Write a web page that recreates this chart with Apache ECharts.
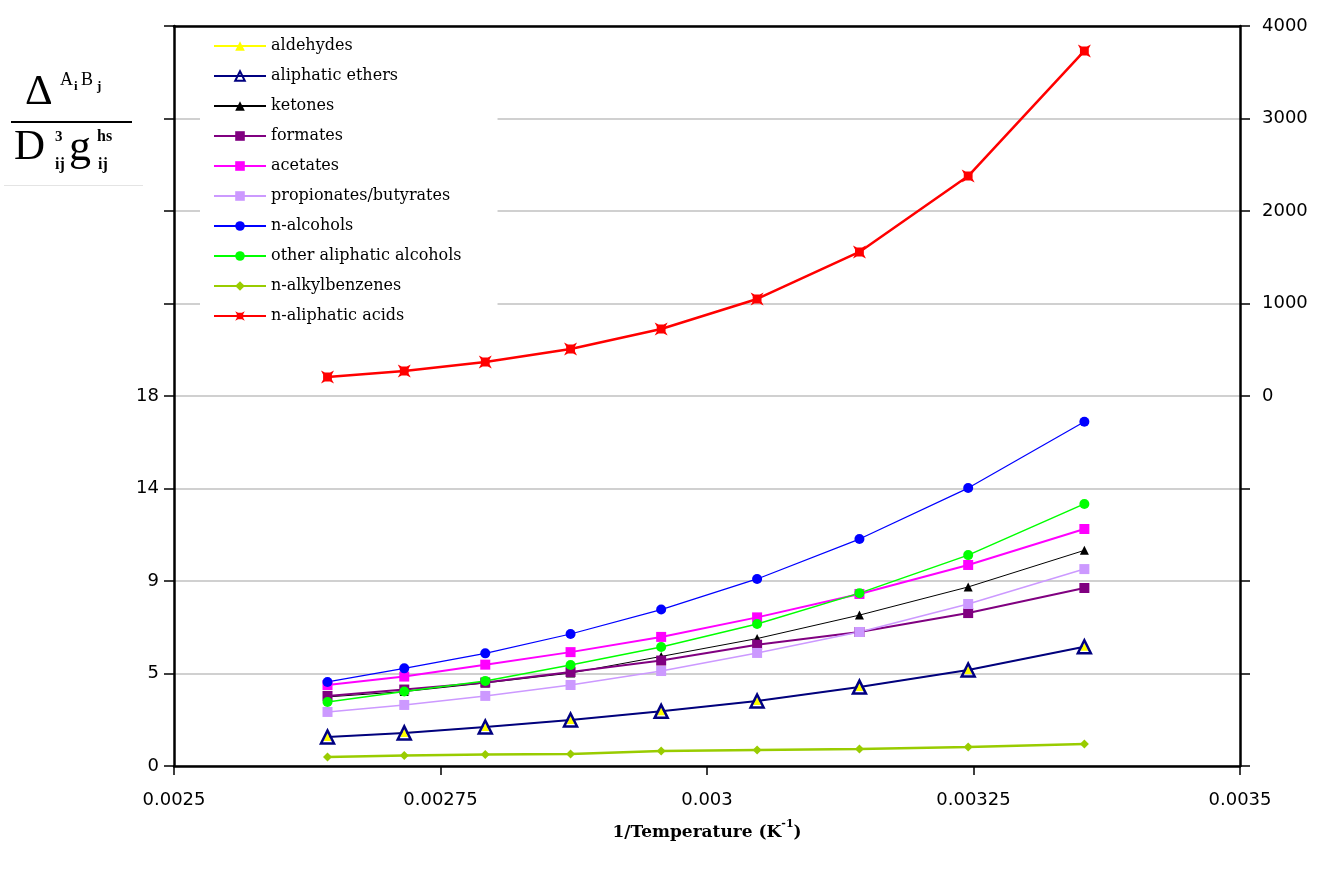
<!DOCTYPE html>
<html><head><meta charset="utf-8">
<script src="https://cdn.jsdelivr.net/npm/echarts@6/dist/echarts.min.js"></script>
<style>html,body{margin:0;padding:0;background:#fff}#c{width:1317px;height:873px}</style>
</head><body><div id="c"></div>
<script>
// x values: 1/Temperature (K^-1)
const invTemperature = [0.002644, 0.002716, 0.002792, 0.002872, 0.002957, 0.003047, 0.003143, 0.003245, 0.003354];

const aldehydes              = [1.41, 1.61, 1.90, 2.24, 2.66, 3.16, 3.84, 4.67, 5.80];
const aliphaticEthers        = [1.41, 1.61, 1.90, 2.24, 2.66, 3.16, 3.84, 4.67, 5.80];
const ketones                = [3.36, 3.62, 4.04, 4.52, 5.33, 6.20, 7.34, 8.71, 10.49];
const formates               = [3.41, 3.72, 4.06, 4.57, 5.13, 5.90, 6.52, 7.44, 8.66];
const acetates               = [3.94, 4.35, 4.93, 5.54, 6.28, 7.23, 8.37, 9.78, 11.53];
const propionatesButyrates   = [2.63, 2.97, 3.41, 3.94, 4.62, 5.50, 6.52, 7.88, 9.58];
const nAlcohols              = [4.09, 4.75, 5.48, 6.42, 7.61, 9.10, 11.04, 13.52, 16.75];
const otherAliphaticAlcohols = [3.11, 3.62, 4.14, 4.91, 5.79, 6.91, 8.41, 10.26, 12.75];
const nAlkylbenzenes         = [0.44, 0.51, 0.56, 0.58, 0.73, 0.78, 0.83, 0.92, 1.07];
const nAliphaticAcids        = [205, 270, 368, 508, 724, 1049, 1557, 2378, 3730];

const xTickLabels = ['0.0025', '0.00275', '0.003', '0.00325', '0.0035'];
const leftTickLabels = ['0', '5', '9', '14', '18'];
const rightTickLabels = ['0', '1000', '2000', '3000', '4000'];

const starSquare = 'path://M0,0 L3,1.6 L7,1.6 L10,0 L8.4,3 L8.4,7 L10,10 L7,8.4 L3,8.4 L0,10 L1.6,7 L1.6,3 Z';

function mk(name, values, color, lineWidth, symbol, size, extra) {
  const s = {
    name: name, type: 'line',
    data: invTemperature.map((x, i) => [x, values[i]]),
    symbol: symbol, symbolSize: size,
    lineStyle: { color: color, width: lineWidth },
    itemStyle: { color: color },
    emphasis: { disabled: true },
    z: 3
  };
  return Object.assign(s, extra || {});
}

const series = [
  mk('aldehydes', aldehydes, '#ffff00', 1, 'triangle', 8),
  mk('aliphatic ethers', aliphaticEthers, '#000080', 2, 'triangle', 13,
     { itemStyle: { color: 'rgba(255,255,255,0)', borderColor: '#000080', borderWidth: 2.5 } }),
  mk('ketones', ketones, '#000000', 1, 'triangle', 9),
  mk('formates', formates, '#800080', 2, 'rect', 10),
  mk('acetates', acetates, '#ff00ff', 2, 'rect', 10),
  mk('propionates/butyrates', propionatesButyrates, '#cc99ff', 1.5, 'rect', 10),
  mk('n-alcohols', nAlcohols, '#0000ff', 1.2, 'circle', 10),
  mk('other aliphatic alcohols', otherAliphaticAlcohols, '#00ff00', 1.5, 'circle', 10),
  mk('n-alkylbenzenes', nAlkylbenzenes, '#99cc00', 2.5, 'diamond', 9),
  mk('n-aliphatic acids', nAliphaticAcids, '#ff0000', 2.5, starSquare, 13, { yAxisIndex: 1 })
];

const serif = 'Liberation Serif';
const chart = echarts.init(document.getElementById('c'), null, { renderer: 'canvas' });
chart.setOption({
  animation: false,
  backgroundColor: '#fff',
  grid: { left: 174, right: 77, top: 26, bottom: 107 },
  legend: {
    orient: 'vertical', left: 200, top: 30,
    padding: [8, 36, 12, 13],
    backgroundColor: '#fff',
    itemWidth: 52, itemHeight: 12, itemGap: 14,
    textStyle: { fontFamily: 'DejaVu Serif', fontSize: 16, color: '#000' },
    data: series.map(s => s.name)
  },
  xAxis: [
    {
      type: 'value', min: 0.0025, max: 0.0035, interval: 0.00025, position: 'bottom',
      axisLine: { onZero: false, lineStyle: { color: '#000', width: 2.5 } },
      axisTick: { show: true, length: 9, lineStyle: { color: '#000', width: 1.5 } },
      axisLabel: { margin: 25, color: '#000', fontFamily: 'DejaVu Sans', fontSize: 18,
        formatter: (v, i) => xTickLabels[i] },
      splitLine: { show: false }
    },
    {
      type: 'value', min: 0.0025, max: 0.0035, interval: 0.00025, position: 'top',
      axisLine: { show: true, onZero: false, lineStyle: { color: '#000', width: 2.5 } },
      axisTick: { show: false }, axisLabel: { show: false }, splitLine: { show: false }
    }
  ],
  yAxis: [
    {
      type: 'value', min: 0, max: 36, interval: 4.5,
      axisLine: { show: true, onZero: false, lineStyle: { color: '#000', width: 2.5 } },
      axisTick: { show: true, length: 10, lineStyle: { color: '#000', width: 1.5 } },
      axisLabel: { margin: 15, color: '#000', fontFamily: 'DejaVu Sans', fontSize: 18,
        formatter: (v, i) => (leftTickLabels[i] !== undefined ? leftTickLabels[i] : '') },
      splitLine: { show: true, lineStyle: { color: '#c0c0c0', width: 1.5 } }
    },
    {
      type: 'value', min: -4000, max: 4000, interval: 1000, position: 'right',
      axisLine: { show: true, onZero: false, lineStyle: { color: '#000', width: 2.5 } },
      axisTick: { show: true, length: 10, lineStyle: { color: '#000', width: 1.5 } },
      axisLabel: { margin: 22, color: '#000', fontFamily: 'DejaVu Sans', fontSize: 18,
        formatter: (v, i) => (i >= 4 ? rightTickLabels[i - 4] : '') },
      splitLine: { show: false }
    }
  ],
  series: series,
  graphic: [
    // y-axis title (formula)
    { type: 'text', left: 25, top: 71, style: { text: 'Δ', font: '43px ' + serif, fill: '#000' } },
    { type: 'text', left: 60, top: 71, style: { text: 'A', font: '18px ' + serif, fill: '#000' } },
    { type: 'text', left: 74, top: 80, style: { text: 'i', font: 'bold 13px ' + serif, fill: '#000' } },
    { type: 'text', left: 81, top: 71, style: { text: 'B', font: '18px ' + serif, fill: '#000' } },
    { type: 'text', left: 97, top: 80, style: { text: 'j', font: 'bold 13px ' + serif, fill: '#000' } },
    { type: 'rect', shape: { x: 11, y: 121, width: 121, height: 2 }, style: { fill: '#000' } },
    { type: 'text', left: 14, top: 126, style: { text: 'D', font: '43px ' + serif, fill: '#000' } },
    { type: 'text', left: 55, top: 130, style: { text: '3', font: 'bold 15px ' + serif, fill: '#000' } },
    { type: 'text', left: 55, top: 157, style: { text: 'ij', font: 'bold 16px ' + serif, fill: '#000' } },
    { type: 'text', left: 69, top: 126, style: { text: 'g', font: '44px ' + serif, fill: '#000' } },
    { type: 'text', left: 97, top: 129, style: { text: 'hs', font: 'bold 16px ' + serif, fill: '#000' } },
    { type: 'text', left: 98, top: 157, style: { text: 'ij', font: 'bold 16px ' + serif, fill: '#000' } },
    { type: 'rect', shape: { x: 4, y: 185, width: 139, height: 1 }, style: { fill: '#e4e4e4' } },
    // x-axis title
    { type: 'text', x: 707, y: 830,
      style: {
        text: '{b|1/Temperature (K}{s|-1}{b|)}',
        align: 'center', verticalAlign: 'middle',
        rich: {
          b: { font: 'bold 17px DejaVu Serif', fill: '#000', verticalAlign: 'bottom', lineHeight: 22 },
          s: { font: 'bold 11px DejaVu Serif', fill: '#000', verticalAlign: 'top', lineHeight: 22 }
        }
      }
    }
  ]
});
</script>
</body></html>
